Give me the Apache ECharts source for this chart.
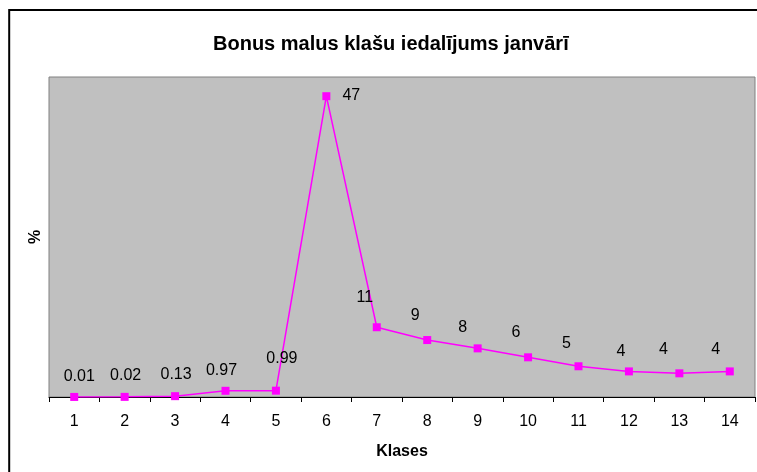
<!DOCTYPE html>
<html>
<head>
<meta charset="utf-8">
<script src="https://cdn.jsdelivr.net/npm/echarts@6/dist/echarts.min.js"></script>
<style>
html,body{margin:0;padding:0;background:#fff;}
#chart{width:757px;height:472px;}
</style>
</head>
<body>
<div id="chart"></div>
<script>
// Data
const categories = ['1','2','3','4','5','6','7','8','9','10','11','12','13','14'];
const values = [0.01, 0.02, 0.13, 0.97, 0.99, 47, 10.9, 8.9, 7.6, 6.2, 4.8, 4.0, 3.7, 4.0];
const labelTexts = ['0.01','0.02','0.13','0.97','0.99','47','11','9','8','6','5','4','4','4'];
const titleText = 'Bonus malus klašu iedalījums janvārī';
const xName = 'Klases';
const yName = '%';

// Label placement (style only): offset of each label from its point
const labelShift = [[5,-20],[1,-21],[1,-22],[-4,-20],[6,-32],[25,-1],[-12,-30],[-12,-24],[-15,-21],[-12,-25],[-12,-23],[-8,-20],[-16,-24],[-14,-22]];

const FONT = '"Liberation Sans", Arial, sans-serif';
const chart = echarts.init(document.getElementById('chart'), null, {renderer: 'canvas'});

const seriesData = values.map((v, i) => ({
  value: v,
  label: {
    show: true,
    position: 'inside',
    offset: labelShift[i],
    formatter: () => labelTexts[i]
  }
}));

chart.setOption({
  backgroundColor: '#ffffff',
  animation: false,
  textStyle: {fontFamily: FONT},
  title: {
    text: titleText,
    left: 208,
    top: 29,
    textStyle: {fontFamily: FONT, fontSize: 20, fontWeight: 'bold', color: '#000'}
  },
  graphic: [{
    type: 'rect',
    silent: true,
    shape: {x: 9.2, y: 10, width: 800, height: 500},
    style: {fill: 'none', stroke: '#000', lineWidth: 2}
  }],
  grid: {
    left: 49, right: 2, top: 77, bottom: 75,
    show: true,
    backgroundColor: '#c0c0c0',
    borderColor: '#808080',
    borderWidth: 1
  },
  xAxis: {
    type: 'category',
    data: categories,
    boundaryGap: true,
    name: xName,
    nameLocation: 'middle',
    nameGap: 47,
    nameTextStyle: {fontFamily: FONT, fontSize: 16, fontWeight: 'bold', color: '#000'},
    axisLine: {show: true, lineStyle: {color: '#000', width: 1}},
    axisTick: {show: true, length: 5, lineStyle: {color: '#000'}},
    axisLabel: {fontFamily: FONT, fontSize: 16, color: '#000', margin: 17},
    splitLine: {show: false}
  },
  yAxis: {
    type: 'value',
    min: 0,
    max: 50,
    name: yName,
    nameLocation: 'middle',
    nameGap: 5,
    nameTextStyle: {fontFamily: FONT, fontSize: 16, fontWeight: 'bold', color: '#000'},
    axisLine: {show: false},
    axisTick: {show: false},
    axisLabel: {show: false},
    splitLine: {show: false}
  },
  series: [{
    type: 'line',
    data: seriesData,
    symbol: 'rect',
    symbolSize: 8,
    lineStyle: {color: '#ff00ff', width: 1.5},
    itemStyle: {color: '#ff00ff'},
    label: {fontFamily: FONT, fontSize: 16, color: '#000'}
  }]
});
</script>
</body>
</html>
